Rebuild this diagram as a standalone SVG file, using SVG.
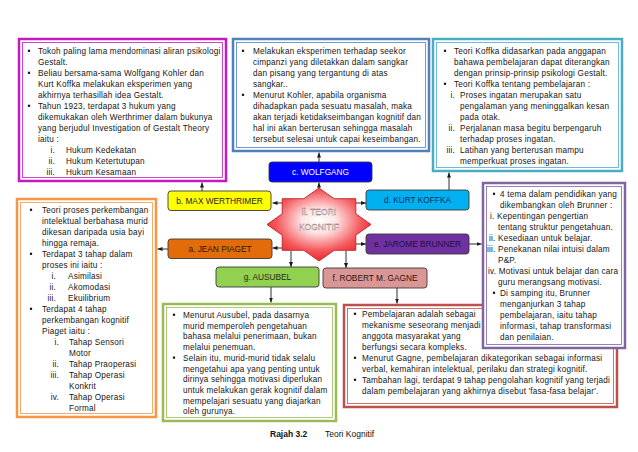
<svg xmlns="http://www.w3.org/2000/svg" width="638" height="452" viewBox="0 0 638 452">
<defs>
<style>
text{font-family:"Liberation Sans",Arial,sans-serif;}
.t{font-size:8.2px;letter-spacing:0.2px;fill:#151515;}
.n{font-size:8.3px;text-anchor:middle;}
.r{text-anchor:end;}
.frame{fill:#fff;}
.cn line{stroke:#1a1a1a;stroke-width:0.9;marker-end:url(#ah);}
.node{stroke:#3a3a3a;stroke-width:0.9;}
</style>
<marker id="ah" markerWidth="5" markerHeight="4" refX="5" refY="2" orient="auto" markerUnits="userSpaceOnUse"><path d="M0,0 L5,2 L0,4 z" fill="#1a1a1a"/></marker>
<rect id="bl" x="-1.1" y="-4.3" width="2.2" height="2.2" fill="#151515"/>
<radialGradient id="sg" cx="50%" cy="45%" r="55%">
<stop offset="0" stop-color="#ffffff"/>
<stop offset="0.3" stop-color="#fde4e4"/>
<stop offset="0.75" stop-color="#f5565a"/>
<stop offset="1" stop-color="#ee2a2f"/>
</radialGradient>
</defs>
<rect width="638" height="452" fill="#fff"/>

<g id="box1">
<rect class="frame" x="19" y="39" width="207" height="142" stroke="#c21bbf" stroke-width="2.5"/>
<rect x="22.5" y="42.5" width="200" height="135" fill="none" stroke="#c21bbf" stroke-width="0.8"/>
<g class="t">
<use href="#bl" x="29" y="54"/><text x="38" y="54">Tokoh paling lama mendominasi aliran psikologi</text>
<text x="38" y="65">Gestalt.</text>
<use href="#bl" x="29" y="76"/><text x="38" y="76">Beliau bersama-sama Wolfgang  Kohler dan</text>
<text x="38" y="87">Kurt Koffka melakukan eksperimen yang</text>
<text x="38" y="98">akhirnya terhasillah idea Gestalt.</text>
<use href="#bl" x="29" y="109"/><text x="38" y="109">Tahun 1923, terdapat 3 hukum yang</text>
<text x="38" y="120">dikemukakan oleh Werthrimer dalam bukunya</text>
<text x="38" y="131">yang berjudul Investigation of Gestalt Theory</text>
<text x="38" y="142">iaitu :</text>
<text class="r" x="55" y="153">i.</text><text x="66" y="153">Hukum Kedekatan</text>
<text class="r" x="55" y="164">ii.</text><text x="66" y="164">Hukum Ketertutupan</text>
<text class="r" x="55" y="175">iii.</text><text x="66" y="175">Hukum Kesamaan</text>
</g>
</g>

<g id="box2">
<rect class="frame" x="233" y="39" width="196" height="112" stroke="#4f81bd" stroke-width="2.5"/>
<rect x="236.5" y="42.5" width="189" height="105" fill="none" stroke="#4f81bd" stroke-width="0.8"/>
<g class="t">
<use href="#bl" x="243" y="54"/><text x="253" y="54">Melakukan eksperimen terhadap seekor</text>
<text x="253" y="65">cimpanzi yang diletakkan dalam sangkar</text>
<text x="253" y="76">dan pisang yang tergantung di atas</text>
<text x="253" y="87">sangkar..</text>
<use href="#bl" x="243" y="98"/><text x="253" y="98">Menurut Kohler, apabila organisma</text>
<text x="253" y="109">dihadapkan pada sesuatu masalah, maka</text>
<text x="253" y="120">akan terjadi ketidakseimbangan kognitif dan</text>
<text x="253" y="131">hal ini akan berterusan sehingga masalah</text>
<text x="253" y="142">tersebut selesai untuk capai keseimbangan.</text>
</g>
</g>

<g id="box3">
<rect class="frame" x="433" y="39" width="189" height="132" stroke="#4bacc6" stroke-width="2.5"/>
<rect x="436.5" y="42.5" width="182" height="125" fill="none" stroke="#4bacc6" stroke-width="0.8"/>
<g class="t">
<use href="#bl" x="445" y="54"/><text x="454" y="54">Teori Koffka didasarkan pada anggapan</text>
<text x="454" y="65">bahawa pembelajaran dapat diterangkan</text>
<text x="454" y="76">dengan prinsip-prinsip psikologi Gestalt.</text>
<use href="#bl" x="445" y="87"/><text x="454" y="87">Teori Koffka tentang pembelajaran :</text>
<text class="r" x="455" y="98">i.</text><text x="460" y="98">Proses ingatan merupakan satu</text>
<text x="460" y="109">pengalaman yang meninggalkan kesan</text>
<text x="460" y="120">pada otak.</text>
<text class="r" x="455" y="131">ii.</text><text x="460" y="131">Perjalanan masa begitu berpengaruh</text>
<text x="460" y="142">terhadap proses ingatan.</text>
<text class="r" x="455" y="153">iii.</text><text x="460" y="153">Latihan yang berterusan mampu</text>
<text x="460" y="164">memperkuat proses ingatan.</text>
</g>
</g>

<g id="box5">
<rect class="frame" x="17" y="199" width="139" height="218" stroke="#f79646" stroke-width="2.5"/>
<rect x="20.5" y="202.5" width="132" height="211" fill="none" stroke="#f79646" stroke-width="0.8"/>
<g class="t">
<use href="#bl" x="31" y="213"/><text x="42" y="213">Teori proses perkembangan</text>
<text x="42" y="224">intelektual berbahasa murid</text>
<text x="42" y="235">dikesan daripada usia bayi</text>
<text x="42" y="246">hingga remaja.</text>
<use href="#bl" x="31" y="257"/><text x="42" y="257">Terdapat 3 tahap dalam</text>
<text x="42" y="268">proses ini iaitu :</text>
<text class="r" x="56" y="279">i.</text><text x="68" y="279">Asimilasi</text>
<text class="r" x="56" y="290">ii.</text><text x="68" y="290">Akomodasi</text>
<text class="r" x="56" y="301">iii.</text><text x="68" y="301">Ekuilibrium</text>
<use href="#bl" x="31" y="312"/><text x="42" y="312">Terdapat 4 tahap</text>
<text x="42" y="323">perkembangan kognitif</text>
<text x="42" y="334">Piaget iaitu :</text>
<text class="r" x="59" y="345">i.</text><text x="69" y="345">Tahap Sensori</text>
<text x="69" y="356">Motor</text>
<text class="r" x="59" y="367">ii.</text><text x="69" y="367">Tahap Praoperasi</text>
<text class="r" x="59" y="378">iii.</text><text x="69" y="378">Tahap Operasi</text>
<text x="69" y="389">Konkrit</text>
<text class="r" x="59" y="400">iv.</text><text x="69" y="400">Tahap Operasi</text>
<text x="69" y="411">Formal</text>
</g>
</g>

<g id="box7">
<rect class="frame" x="163" y="304" width="173" height="117" stroke="#9bbb59" stroke-width="2.5"/>
<rect x="166.5" y="307.5" width="166" height="110" fill="none" stroke="#9bbb59" stroke-width="0.8"/>
<g class="t">
<use href="#bl" x="174" y="318"/><text x="183" y="318">Menurut Ausubel, pada dasarnya</text>
<text x="183" y="328.7">murid memperoleh pengetahuan</text>
<text x="183" y="339.4">bahasa melalui penerimaan, bukan</text>
<text x="183" y="350.1">melalui penemuan.</text>
<use href="#bl" x="174" y="360.8"/><text x="183" y="360.8">Selain itu, murid-murid tidak selalu</text>
<text x="183" y="371.5">mengetahui apa yang penting untuk</text>
<text x="183" y="382.2">dirinya sehingga motivasi diperlukan</text>
<text x="183" y="392.9">untuk melakukan gerak kognitif dalam</text>
<text x="183" y="403.6">mempelajari sesuatu yang diajarkan</text>
<text x="183" y="414.3">oleh gurunya.</text>
</g>
</g>

<g id="box8">
<rect class="frame" x="344" y="305" width="273" height="102" stroke="#c0504d" stroke-width="2.5"/>
<rect x="347.5" y="308.5" width="266" height="95" fill="none" stroke="#c0504d" stroke-width="0.8"/>
<g class="t">
<use href="#bl" x="355" y="317"/><text x="362" y="317">Pembelajaran adalah sebagai</text>
<text x="362" y="328">mekanisme seseorang menjadi</text>
<text x="362" y="339">anggota masyarakat yang</text>
<text x="362" y="350">berfungsi secara kompleks.</text>
<use href="#bl" x="355" y="361"/><text x="362" y="361">Menurut Gagne, pembelajaran dikategorikan sebagai informasi</text>
<text x="362" y="372">verbal, kemahiran intelektual, perilaku dan strategi kognitif.</text>
<use href="#bl" x="355" y="383"/><text x="362" y="383">Tambahan lagi, terdapat 9 tahap pengolahan kognitif yang terjadi</text>
<text x="362" y="394">dalam pembelajaran yang akhirnya disebut 'fasa-fasa belajar'.</text>
</g>
</g>

<g id="box6">
<rect class="frame" x="483" y="183" width="142" height="165" stroke="#8064a2" stroke-width="2.5"/>
<rect x="486.5" y="186.5" width="135" height="158" fill="none" stroke="#8064a2" stroke-width="0.8"/>
<g class="t">
<use href="#bl" x="494" y="197"/><text x="500" y="197">4 tema dalam pendidikan yang</text>
<text x="500" y="208">dikembangkan oleh Brunner :</text>
<text x="490" y="219">i. Kepentingan pengertian</text>
<text x="498" y="230">tentang struktur pengetahuan.</text>
<text x="489" y="241">ii. Kesediaan untuk belajar.</text>
<text x="487" y="252">iii. Penekanan nilai intuisi dalam</text>
<text x="498" y="263">P&amp;P.</text>
<text x="488" y="274">iv. Motivasi untuk belajar dan cara</text>
<text x="498" y="285">guru merangsang motivasi.</text>
<use href="#bl" x="494" y="296"/><text x="500" y="296">Di samping itu, Brunner</text>
<text x="500" y="307">menganjurkan 3 tahap</text>
<text x="500" y="318">pembelajaran, iaitu tahap</text>
<text x="500" y="329">informasi, tahap transformasi</text>
<text x="500" y="340">dan penilaian.</text>
</g>
</g>

<g id="connectors" class="cn">
<line x1="282" y1="203" x2="272.5" y2="203"/>
<line x1="282" y1="248" x2="272.5" y2="248"/>
<line x1="356" y1="203" x2="366" y2="203"/>
<line x1="356" y1="244" x2="366" y2="244"/>
<line x1="319" y1="189" x2="319" y2="182.5"/>
<line x1="291" y1="251" x2="291" y2="267"/>
<line x1="346" y1="251" x2="346" y2="268"/>
<line x1="202" y1="191" x2="202" y2="182.5"/>
<line x1="319" y1="162" x2="319" y2="152.5"/>
<line x1="449" y1="190" x2="449" y2="172.5"/>
<line x1="168" y1="249" x2="157.5" y2="249"/>
<line x1="469" y1="244" x2="481.5" y2="244"/>
<line x1="271" y1="287" x2="271" y2="302.5"/>
<line x1="397" y1="288" x2="397" y2="303.5"/>
</g>

<g id="node-b">
<rect class="node" x="168" y="191" width="103" height="19.5" rx="3" fill="#ffff00"/>
<text class="n" x="219.5" y="203.8" fill="#222">b. MAX WERTHRIMER</text>
</g>
<g id="node-a">
<rect class="node" x="168" y="239" width="104" height="19.5" rx="3" fill="#e36c0a"/>
<text class="n" x="220" y="251.8" fill="#2a1505">a. JEAN PIAGET</text>
</g>
<g id="node-c">
<rect class="node" x="269" y="162" width="103" height="20" rx="3" fill="#0000ff"/>
<text class="n" x="320.5" y="175" fill="#ffffff">c. WOLFGANG</text>
</g>
<g id="node-d">
<rect class="node" x="366" y="190" width="103" height="20" rx="3" fill="#00b0f0"/>
<text class="n" x="417.5" y="203" fill="#1a2a5a">d. KURT KOFFKA</text>
</g>
<g id="node-e">
<rect class="node" x="366" y="234" width="103" height="20" rx="3" fill="#7030a0"/>
<text class="n" x="417.5" y="247" fill="#1c1040">e. JAROME BRUNNER</text>
</g>
<g id="node-g">
<rect class="node" x="216" y="267" width="103" height="20" rx="3" fill="#92d050"/>
<text class="n" x="267.5" y="280" fill="#1e2e10">g. AUSUBEL</text>
</g>
<g id="node-f">
<rect class="node" x="323" y="268" width="104" height="20" rx="3" fill="#d99694"/>
<text class="n" x="375" y="281" fill="#2a1515">f. ROBERT M. GAGNE</text>
</g>

<g id="node-center">
<polygon points="371,224.5 355.8,235.2 355.8,250.3 334.2,250.3 319,261 303.8,250.3 282.2,250.3 282.2,235.2 267,224.5 282.2,213.8 282.2,198.7 303.8,198.7 319,188 334.2,198.7 355.8,198.7 355.8,213.8" fill="url(#sg)" stroke="#b3262a" stroke-width="0.9" stroke-linejoin="miter"/>
<text x="319" y="215" font-size="8.5" text-anchor="middle" fill="#ffffff" stroke="#8a7070" stroke-width="0.35">ii.  TEORI</text>
<text x="319" y="230" font-size="8.5" text-anchor="middle" fill="#ffffff" stroke="#8a7070" stroke-width="0.35">KOGNITIF</text>
</g>

<g id="caption">
<text x="270" y="437" font-size="8.5" font-weight="bold" fill="#111">Rajah 3.2</text>
<text x="325" y="437" font-size="8.5" fill="#111">Teori Kognitif</text>
</g>
</svg>
